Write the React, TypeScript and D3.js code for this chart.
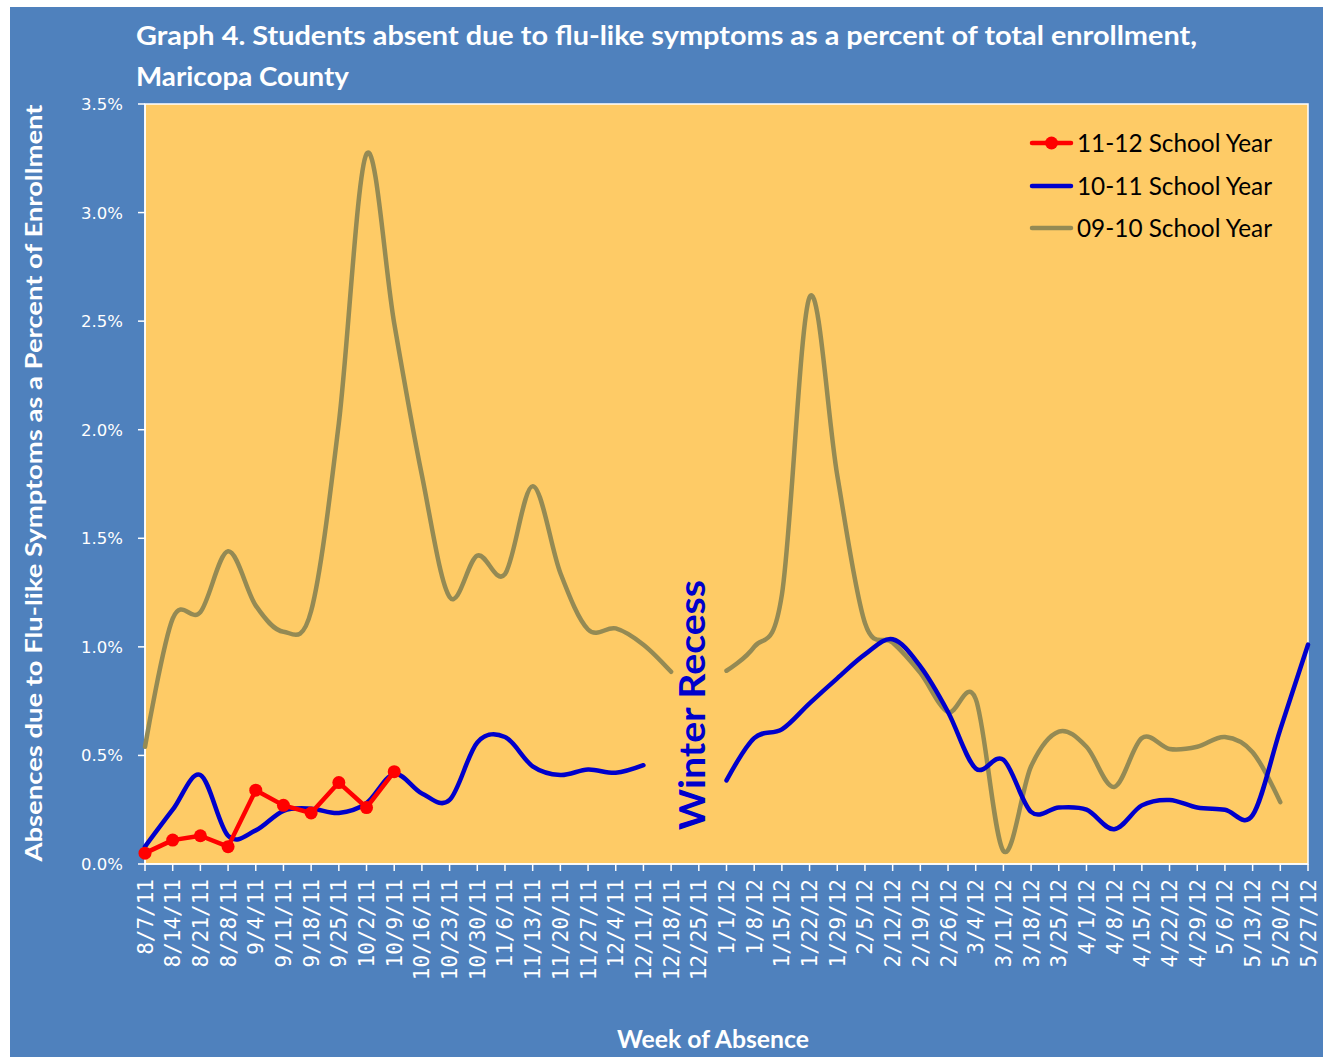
import React from "react";
import * as d3 from "d3";

const weeks = [
  "8/7/11","8/14/11","8/21/11","8/28/11","9/4/11","9/11/11","9/18/11","9/25/11","10/2/11","10/9/11",
  "10/16/11","10/23/11","10/30/11","11/6/11","11/13/11","11/20/11","11/27/11","12/4/11","12/11/11","12/18/11",
  "12/25/11","1/1/12","1/8/12","1/15/12","1/22/12","1/29/12","2/5/12","2/12/12","2/19/12","2/26/12",
  "3/4/12","3/11/12","3/18/12","3/25/12","4/1/12","4/8/12","4/15/12","4/22/12","4/29/12","5/6/12",
  "5/13/12","5/20/12","5/27/12"
];

const N = null;

const sy1112: (number | null)[] = [
  0.05, 0.11, 0.13, 0.08, 0.34, 0.27, 0.235, 0.375, 0.26, 0.425,
  N, N, N, N, N, N, N, N, N, N,
  N, N, N, N, N, N, N, N, N, N,
  N, N, N, N, N, N, N, N, N, N,
  N, N, N
];

const sy1011: (number | null)[] = [
  0.08, 0.25, 0.41, 0.13, 0.155, 0.245, 0.255, 0.235, 0.28, 0.415,
  0.325, 0.295, 0.56, 0.585, 0.45, 0.41, 0.435, 0.42, 0.455, N,
  N, 0.385, 0.58, 0.62, 0.74, 0.855, 0.965, 1.035, 0.91, 0.70,
  0.44, 0.48, 0.24, 0.26, 0.25, 0.16, 0.27, 0.295, 0.26, 0.25,
  0.225, 0.62, 1.01
];

const sy0910: (number | null)[] = [
  0.54, 1.13, 1.16, 1.44, 1.19, 1.07, 1.165, 2.03, 3.27, 2.49,
  1.79, 1.23, 1.42, 1.335, 1.74, 1.34, 1.08, 1.085, 1.01, 0.885,
  N, 0.89, 1.0, 1.24, 2.61, 1.79, 1.11, 1.02, 0.88, 0.70,
  0.76, 0.06, 0.45, 0.61, 0.54, 0.355, 0.58, 0.53, 0.54, 0.585,
  0.515, 0.285, N
];

const yTicks = [0, 0.5, 1.0, 1.5, 2.0, 2.5, 3.0, 3.5];

const seriesNames = ["11-12 School Year", "10-11 School Year", "09-10 School Year"];

const RED = "#ff0000";
const BLUE = "#0000cc";
const OLIVE = "#948a54";
const WHITE = "#ffffff";

export default function App() {
  const L = 145, R = 1308, T = 104, B = 864;
  const x = d3.scalePoint<string>().domain(weeks).range([L, R]);
  const y = d3.scaleLinear().domain([0, 3.5]).range([B, T]);

  const mk = (curve: d3.CurveFactory) =>
    d3
      .line<number | null>()
      .defined((d) => d !== null)
      .x((_, i) => x(weeks[i]) as number)
      .y((d) => y(d as number))
      .curve(curve);

  const smooth = mk(d3.curveCatmullRom.alpha(0));
  const straight = mk(d3.curveLinear);

  const legend = [
    { name: seriesNames[0], color: RED, marker: true, y: 143 },
    { name: seriesNames[1], color: BLUE, marker: false, y: 186 },
    { name: seriesNames[2], color: OLIVE, marker: false, y: 228 },
  ];

  const sans = "Lato, 'Open Sans', 'DejaVu Sans', sans-serif";

  return (
    <svg
      width={1323}
      height={1059}
      style={{ position: "absolute", left: 0, top: 0, display: "block" }}
    >
      <rect x={0} y={0} width={1323} height={1059} fill="#ffffff" />
      <rect x={10} y={7} width={1313} height={1050} fill="#4f81bd" />
      <rect x={L} y={T} width={R - L} height={B - T} fill="#fecb66" stroke={WHITE} strokeWidth={1.5} />

      {/* Title */}
      <text x={136} y={45} fill={WHITE} fontFamily={sans} fontWeight={700} fontSize={26}
        textLength={1061} lengthAdjust="spacingAndGlyphs">
        Graph 4. Students absent due to flu-like symptoms as a percent of total enrollment,
      </text>
      <text x={136} y={86} fill={WHITE} fontFamily={sans} fontWeight={700} fontSize={26}
        textLength={213} lengthAdjust="spacingAndGlyphs">
        Maricopa County
      </text>

      {/* Y axis */}
      <line x1={L} x2={L} y1={T} y2={B} stroke={WHITE} strokeWidth={1.5} />
      {yTicks.map((t) => (
        <g key={t}>
          <line x1={L - 7} x2={L} y1={y(t)} y2={y(t)} stroke={WHITE} strokeWidth={1.5} />
          <text x={123} y={y(t) + 6} textAnchor="end" fill={WHITE} fontFamily="'DejaVu Sans', sans-serif" fontSize={16.5}>
            {t.toFixed(1) + "%"}
          </text>
        </g>
      ))}
      <text
        transform={`translate(42, 483) rotate(-90)`}
        textAnchor="middle"
        fill={WHITE}
        fontFamily={sans}
        fontWeight={700}
        fontSize={23}
        textLength={757}
        lengthAdjust="spacingAndGlyphs"
      >
        Absences due to Flu-like Symptoms as a Percent of Enrollment
      </text>

      {/* X axis */}
      <line x1={L} x2={R} y1={B} y2={B} stroke={WHITE} strokeWidth={1.5} />
      {weeks.map((w) => (
        <g key={w}>
          <line x1={x(w)} x2={x(w)} y1={B} y2={B + 7} stroke={WHITE} strokeWidth={1.5} />
          <text
            transform={`translate(${(x(w) as number) + 7.5}, 879) rotate(-90)`}
            textAnchor="end"
            fill={WHITE}
            fontFamily="'DejaVu Sans Mono', monospace"
            fontSize={21}
          >
            {w}
          </text>
        </g>
      ))}
      <text x={713} y={1048} textAnchor="middle" fill={WHITE} fontFamily={sans} fontWeight={700} fontSize={25}
        textLength={192} lengthAdjust="spacingAndGlyphs">
        Week of Absence
      </text>

      {/* Series */}
      <path d={smooth(sy0910) || ""} fill="none" stroke={OLIVE} strokeWidth={4.5} strokeLinejoin="round" strokeLinecap="round" />
      <path d={smooth(sy1011) || ""} fill="none" stroke={BLUE} strokeWidth={4.5} strokeLinejoin="round" strokeLinecap="round" />
      <path d={straight(sy1112) || ""} fill="none" stroke={RED} strokeWidth={4.5} strokeLinejoin="round" />
      {sy1112.map((v, i) =>
        v === null ? null : (
          <circle key={i} cx={x(weeks[i])} cy={y(v)} r={6.5} fill={RED} />
        )
      )}

      {/* Winter Recess */}
      <text
        transform={`translate(705, 830) rotate(-90)`}
        fill={BLUE}
        fontFamily={sans}
        fontWeight={700}
        fontSize={37}
        textLength={250}
        lengthAdjust="spacingAndGlyphs"
      >
        Winter Recess
      </text>

      {/* Legend */}
      {legend.map((l) => (
        <g key={l.name}>
          <line x1={1032} x2={1071} y1={l.y} y2={l.y} stroke={l.color} strokeWidth={4.5} strokeLinecap="round" />
          {l.marker && <circle cx={1051.5} cy={l.y} r={6.5} fill={l.color} />}
          <text x={1077} y={l.y + 9} fill="#000000" fontFamily={sans} fontSize={25}
            textLength={195} lengthAdjust="spacingAndGlyphs">
            {l.name}
          </text>
        </g>
      ))}
    </svg>
  );
}
